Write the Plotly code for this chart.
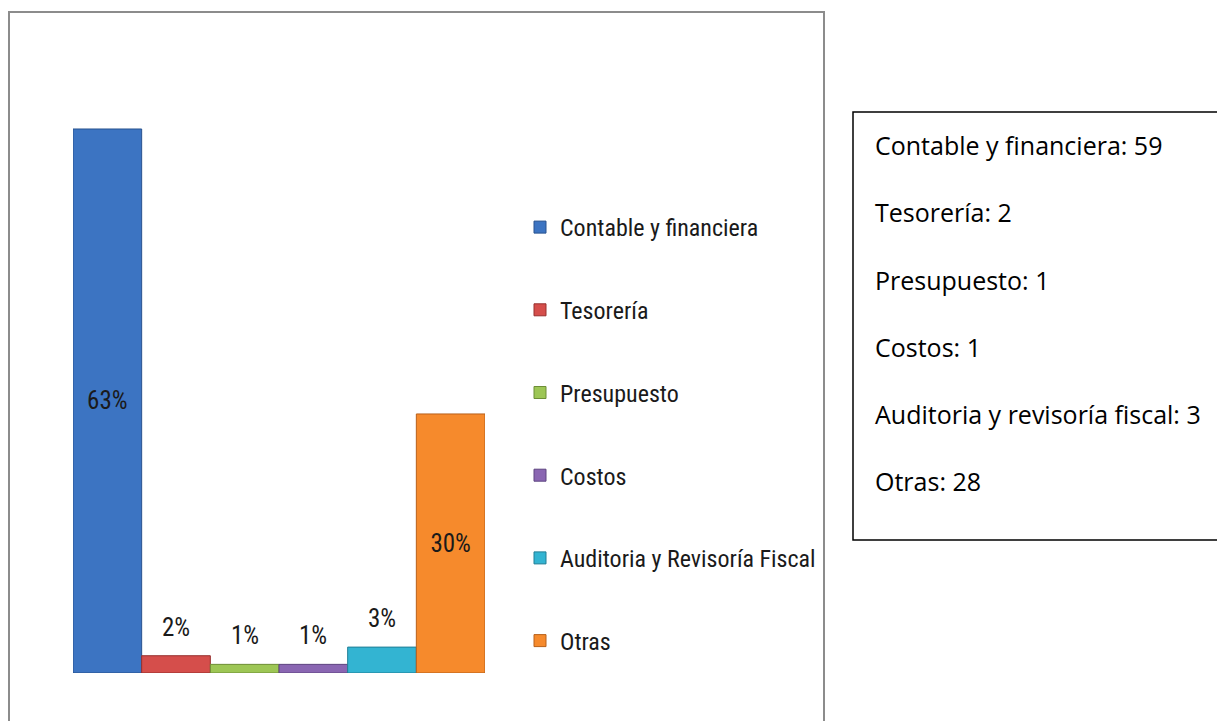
import plotly.graph_objects as go

W, H = 1225, 721
OFF = 8  # page body margin in the browser

# ---- data ----
categories = ["Contable y financiera", "Tesorería", "Presupuesto", "Costos",
              "Auditoria y Revisoría Fiscal", "Otras"]
percent = [63, 2, 1, 1, 3, 30]
box_labels = ["Contable y financiera", "Tesorería", "Presupuesto", "Costos",
              "Auditoria y revisoría fiscal", "Otras"]
counts = [59, 2, 1, 1, 3, 28]

colors = ["#3C74C2", "#D54E4B", "#9DC655", "#8A66B2", "#33B4D2", "#F68A2C"]
edges = ["#28528F", "#97302E", "#6D8E36", "#5E4580", "#217F96", "#B8601A"]

def px(x):
    return (x - OFF) / W

def py(y):
    return 1 - (y - OFF) / H

NARROW = "Liberation Sans Narrow, Roboto Condensed, Arial Narrow, sans-serif"

fig = go.Figure()
for i, (c, v) in enumerate(zip(categories, percent)):
    inside = v >= 10
    fig.add_trace(go.Bar(
        x=[i], y=[v], width=[1.0], name=c,
        marker=dict(color=colors[i], line=dict(color=edges[i], width=1)),
        text=[f"{v}%"] if inside else None,
        textposition="inside" if inside else "none",
        insidetextanchor="middle",
        textfont=dict(family=NARROW, size=25, color="#1a1a1a"),
        legendgroup=f"g{i}",
        showlegend=True,
    ))
    if not inside:
        fig.add_annotation(x=i, y=v, xref="x", yref="y", text=f"{v}%",
                           showarrow=False, yanchor="bottom", yshift=12,
                           font=dict(family=NARROW, size=25, color="#1a1a1a"))

base_px, top63_px = 673, 129
scale = (base_px - top63_px) / 63
y_top_px = base_px - 70 * scale
fig.update_layout(
    width=W, height=H,
    margin=dict(l=0, r=0, t=0, b=0),
    paper_bgcolor="white", plot_bgcolor="rgba(0,0,0,0)",
    barmode="overlay",
    xaxis=dict(domain=[px(73), px(485)], range=[-0.5, 5.5], visible=False),
    yaxis=dict(domain=[py(base_px), py(y_top_px)], range=[0, 70], visible=False),
    legend=dict(x=px(520), y=py(205), xanchor="left", yanchor="top",
                traceorder="grouped", tracegroupgap=48.5,
                font=dict(family=NARROW, size=24, color="#1a1a1a"),
                bgcolor="rgba(0,0,0,0)", itemwidth=30),
    showlegend=True,
)

# chart frame
fig.add_shape(type="rect", xref="paper", yref="paper",
              x0=px(9), x1=px(824), y0=-0.1, y1=py(12),
              line=dict(color="#8C8C8C", width=2), layer="below")

# text box on the right
fig.add_shape(type="rect", xref="paper", yref="paper",
              x0=px(853), x1=1.05, y0=py(540), y1=py(112),
              line=dict(color="#000000", width=1.5))
line_y = [145, 212, 280, 347, 414, 481]
for lbl, n, yy in zip(box_labels, counts, line_y):
    fig.add_annotation(x=px(873), y=py(yy), xref="paper", yref="paper",
                       text=f"{lbl}: {n}", showarrow=False,
                       xanchor="left", yanchor="middle",
                       font=dict(family="Open Sans, Noto Sans, sans-serif", size=25, color="#000000"))

fig.write_html("out.html")
